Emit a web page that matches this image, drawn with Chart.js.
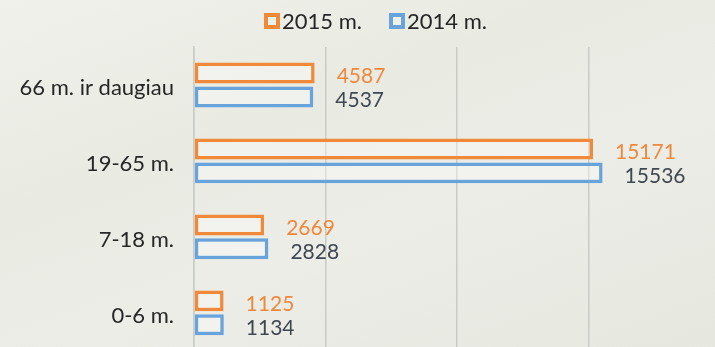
<!DOCTYPE html>
<html>
<head>
<meta charset="utf-8">
<script src="https://cdn.jsdelivr.net/npm/chart.js@4/dist/chart.umd.min.js"></script>
<style>
  html, body { margin: 0; padding: 0; }
  body {
    width: 715px; height: 347px; overflow: hidden; position: relative;
    background: linear-gradient(160deg, #eff1ea 0%, #e9ebe3 35%, #ecede6 60%, #e6e8e0 100%);
    font-family: Lato, "Open Sans", sans-serif;
  }
  #wrap { position: absolute; left: 0; top: 0; width: 715px; height: 347px; overflow: hidden; }
  #wrap canvas { display: block; }
  #legend {
    position: absolute; top: 7px; left: 264px; display: flex; align-items: center;
    font-size: 22px; color: #262626; white-space: nowrap;
  }
  .item { display: flex; align-items: center; margin-right: 27px; }
  .box { width: 8px; height: 8px; border: 4px solid; background: #eef0ea; margin-right: 2px; }
</style>
</head>
<body>
<div id="wrap"><canvas id="c" width="722" height="384"></canvas></div>
<div id="legend"></div>
<script>
// Age groups, listed top to bottom
const categories = ['66 m. ir daugiau', '19-65 m.', '7-18 m.', '0-6 m.'];
const seriesNames = ['2015 m.', '2014 m.'];
const values2015 = [4587, 15171, 2669, 1125];
const values2014 = [4537, 15536, 2828, 1134];
const axisMax = 20000;
const gridStep = 5000;

const orange = '#f08a3a';
const blue = '#68a4db';
const labelColors = ['#f0883c', '#3f4752'];

// HTML legend
const legend = document.getElementById('legend');
[[seriesNames[0], orange], [seriesNames[1], blue]].forEach(([name, col]) => {
  const it = document.createElement('div'); it.className = 'item';
  const b = document.createElement('span'); b.className = 'box'; b.style.borderColor = col;
  const t = document.createElement('span'); t.textContent = name;
  it.appendChild(b); it.appendChild(t); legend.appendChild(it);
});

// Value labels to the right of each bar
const valueLabels = {
  id: 'valueLabels',
  afterDatasetsDraw(chart) {
    const ctx = chart.ctx;
    ctx.save();
    ctx.font = '21px Lato, "Open Sans", sans-serif';
    ctx.textBaseline = 'middle';
    ctx.textAlign = 'left';
    chart.data.datasets.forEach((ds, di) => {
      const meta = chart.getDatasetMeta(di);
      ctx.fillStyle = labelColors[di];
      meta.data.forEach((el, i) => {
        ctx.fillText(String(ds.data[i]), el.x + 22, el.y + 3);
      });
    });
    ctx.restore();
  }
};

const barStyle = {
  backgroundColor: 'rgba(255,255,255,0.35)',
  borderWidth: 3.5, borderSkipped: false,
  categoryPercentage: 0.63, barPercentage: 0.875
};

new Chart(document.getElementById('c'), {
  type: 'bar',
  data: {
    labels: categories,
    datasets: [
      Object.assign({ label: seriesNames[0], data: values2015, borderColor: orange }, barStyle),
      Object.assign({ label: seriesNames[1], data: values2014, borderColor: blue }, barStyle)
    ]
  },
  options: {
    indexAxis: 'y',
    responsive: false,
    animation: false,
    layout: { padding: { top: 47, bottom: 8, left: 0, right: 2 } },
    plugins: { legend: { display: false }, tooltip: { enabled: false } },
    scales: {
      x: {
        min: 0, max: axisMax,
        ticks: { display: false, stepSize: gridStep },
        grid: { color: '#c9cbc6', lineWidth: 1.5, drawTicks: false },
        border: { display: false }
      },
      y: {
        afterFit(scale) { scale.width = 194; },
        ticks: { padding: 20, labelOffset: 3, color: '#262626', font: { family: 'Lato, "Open Sans", sans-serif', size: 22 } },
        grid: { display: false, drawTicks: false },
        border: { display: true, color: '#c9cbc6', width: 1.5 }
      }
    }
  },
  plugins: [valueLabels]
});
</script>
</body>
</html>
